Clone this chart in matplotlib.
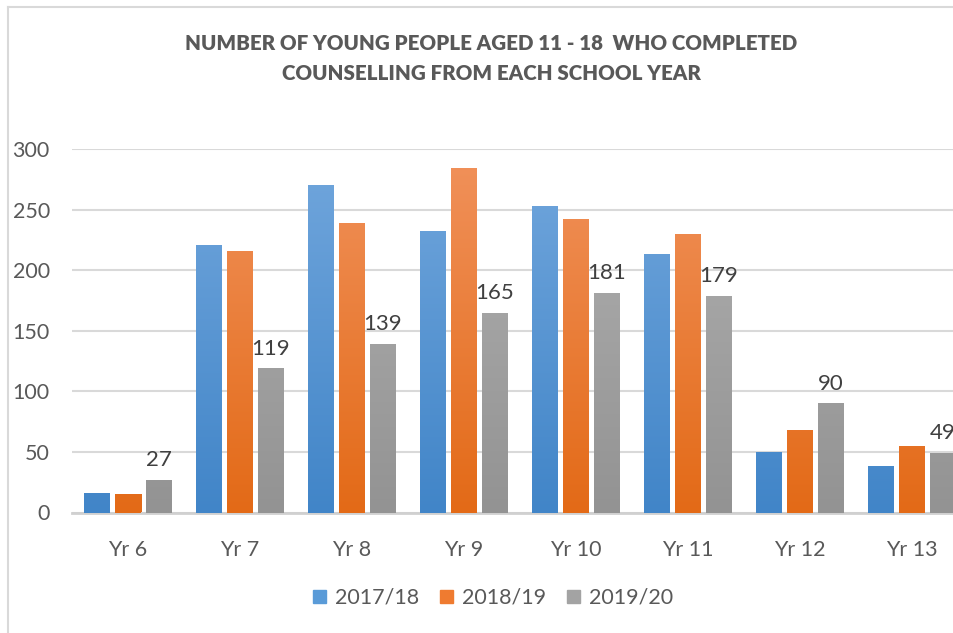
import numpy as np
import matplotlib
matplotlib.use("Agg")
import matplotlib.pyplot as plt
from matplotlib.colors import LinearSegmentedColormap
from matplotlib.patches import Rectangle

plt.rcParams['font.family'] = ['Lato', 'DejaVu Sans']

# Data
years = ["Yr 6", "Yr 7", "Yr 8", "Yr 9", "Yr 10", "Yr 11", "Yr 12", "Yr 13"]
series_names = ["2017/18", "2018/19", "2019/20"]
v_2017 = [16, 221, 270, 232, 253, 213, 50, 38]
v_2018 = [15, 216, 239, 284, 242, 230, 68, 55]
v_2019 = [27, 119, 139, 165, 181, 179, 90, 49]
yticks = [0, 50, 100, 150, 200, 250, 300]

# gradient colours (top, bottom) roughly like Excel's default style
grads = [("#72a7dd", "#4185c8"), ("#f1925c", "#e36a17"), ("#b1b1b1", "#939393")]
legend_cols = ["#5a9bd8", "#ef7b30", "#a3a3a3"]
text_col = "#595959"

W, H = 954, 633
fig = plt.figure(figsize=(W / 100, H / 100), dpi=100)

left, right = 72, 968
y0, y300 = 512.5, 149
ax = fig.add_axes([left / W, (H - y0) / H, (right - left) / W, (y0 - y300) / H])

x = np.arange(len(years))
bw = 26 / 112
step = 31 / 112
all_vals = [v_2017, v_2018, v_2019]

for i, vals in enumerate(all_vals):
    bars = ax.bar(x + (i - 1) * step, vals, width=bw, color=grads[i][1],
                  label=series_names[i], zorder=3)
    cmap = LinearSegmentedColormap.from_list("g%d" % i, [grads[i][1], grads[i][0]])
    grad = np.linspace(0, 1, 256).reshape(-1, 1)
    for b in bars:
        bx, bwid = b.get_x(), b.get_width()
        im = ax.imshow(grad, cmap=cmap, origin="lower", aspect="auto",
                       extent=[bx, bx + bwid, 0, 300], zorder=3.5,
                       interpolation="bilinear")
        im.set_clip_path(b)

# data labels on the 2019/20 series only
for xi, v in zip(x + step, v_2019):
    ax.annotate(str(v), (xi, v), xytext=(0, 7), textcoords="offset points",
                ha="center", va="bottom", fontsize=16, color="#404040")

ax.set_xlim(-0.5, len(years) - 0.5)
ax.set_ylim(0, 300)
ax.set_yticks(yticks)
ax.set_xticks(x)
ax.set_xticklabels(years)
ax.tick_params(axis="both", length=0, labelsize=15.5, colors=text_col)
ax.tick_params(axis="y", pad=16)
ax.tick_params(axis="x", pad=20)
ax.grid(axis="y", color="#d9d9d9", linewidth=1.5, zorder=0)
for s in ["top", "right", "left"]:
    ax.spines[s].set_visible(False)
ax.spines["bottom"].set_color("#d0d0d0")
ax.spines["bottom"].set_linewidth(2)
ax.set_axisbelow(True)

# title
fig.text(491 / W, 1 - 43 / H, "NUMBER OF YOUNG PEOPLE AGED 11 - 18  WHO COMPLETED",
         ha="center", va="center", fontsize=14.8, fontweight="heavy", color=text_col)
fig.text(491 / W, 1 - 73 / H, "COUNSELLING FROM EACH SCHOOL YEAR",
         ha="center", va="center", fontsize=14.8, fontweight="heavy", color=text_col)

# legend
handles = [Rectangle((0, 0), 1, 1, color=c) for c in legend_cols]
fig.legend(handles, series_names, loc="center", bbox_to_anchor=(493 / W, 1 - 598 / H),
           ncol=3, frameon=False, fontsize=15.5, labelcolor=text_col,
           handlelength=0.6, handleheight=0.6, handletextpad=0.4, columnspacing=1.0)

# chart border (partly cut off)
fig.add_artist(plt.Line2D([8.5 / W, 8.5 / W], [0, 1 - 6.5 / H], color="#d9d9d9", lw=1.5))
fig.add_artist(plt.Line2D([8.5 / W, 1], [1 - 6.5 / H, 1 - 6.5 / H], color="#d9d9d9", lw=1.5))

fig.savefig("out.png", dpi=100)
